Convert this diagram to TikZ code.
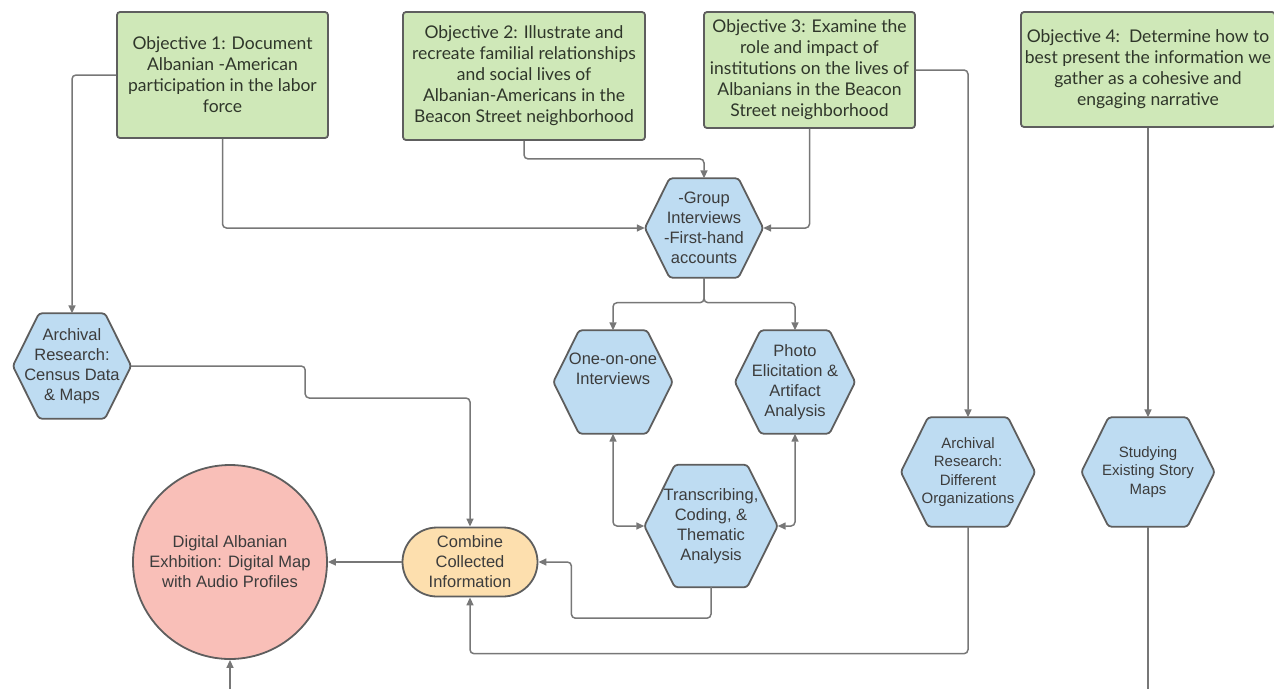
\documentclass[tikz,border=0pt]{standalone}
\usepackage{fontspec}
\setmainfont{Liberation Sans}
\newfontfamily\lato{Lato}
\usetikzlibrary{arrows.meta,calc,backgrounds,shapes.misc}
\definecolor{objfill}{HTML}{CFE8B8}
\definecolor{hexfill}{HTML}{BEDCF2}
\definecolor{edgegray}{HTML}{5E5E5E}
\definecolor{linegray}{HTML}{777777}
\definecolor{combfill}{HTML}{FDDFAE}
\definecolor{circfill}{HTML}{F9BFB8}
\definecolor{txtgray}{HTML}{3C3C3C}
\definecolor{objtxt}{HTML}{2F362A}
\tikzset{
  objbox/.style={draw=edgegray, fill=objfill, line width=1.8pt, rounded corners=3pt,
    inner sep=0pt, align=center, text=objtxt, font=\lato\fontsize{17.5}{21}\selectfont},
  hexn/.style={inner sep=0pt, align=center, text=txtgray, font=\fontsize{16.5}{20}\selectfont},
  hexsmall/.style={font=\fontsize{15}{18.5}\selectfont},
  hexbox/.style={draw=edgegray, fill=hexfill, line width=1.8pt, rounded corners=3pt},
  combbox/.style={rounded rectangle, draw=edgegray, fill=combfill, line width=1.8pt,
    inner sep=0pt, align=center, text=txtgray, font=\fontsize{16.5}{20}\selectfont},
  circbox/.style={circle, draw=edgegray, fill=circfill, line width=1.8pt,
    inner sep=0pt, align=center, text=txtgray, font=\fontsize{16.5}{20}\selectfont},
  conn/.style={draw=linegray, line width=1.5pt, rounded corners=4pt},
  arr/.style={conn, -{Triangle[length=8pt,width=7pt]}},
  arrboth/.style={conn, {Triangle[length=8pt,width=7pt]}-{Triangle[length=8pt,width=7pt]}}
}
\newcommand{\hexnode}[7][]{%
  \node[hexn, #1, minimum width=#5, minimum height=#6] (#2) at (#3,#4) {#7};
  \begin{scope}[on background layer]
    \draw[hexbox] (#2.west) -- ($(#2.north west)+(0.25*#6,0)$) -- ($(#2.north east)+(-0.25*#6,0)$)
      -- (#2.east) -- ($(#2.south east)+(-0.25*#6,0)$) -- ($(#2.south west)+(0.25*#6,0)$) -- cycle;
  \end{scope}
}
\begin{document}
\begin{tikzpicture}[x=1pt,y=-1pt]
\useasboundingbox (0,0) rectangle (1274,689);

% objectives
\node[objbox, minimum width=211, minimum height=126] (o1) at (222.5,75)
  {Objective 1: Document\\Albanian -American\\participation in the labor\\force};
\node[objbox, minimum width=242, minimum height=128] (o2) at (524,76)
  {Objective 2: Illustrate and\\recreate familial relationships\\and social lives of\\Albanian-Americans in the\\Beacon Street neighborhood};
\node[objbox, minimum width=211, minimum height=116] (o3) at (809.5,70)
  {Objective 3: Examine the\\role and impact of\\institutions on the lives of\\Albanians in the Beacon\\Street neighborhood};
\node[objbox, minimum width=254, minimum height=115] (o4) at (1148,69.5)
  {Objective 4:\ \ Determine how to\\best present the information we\\gather as a cohesive and\\engaging narrative};

% hexagons
\hexnode{ar1}{72}{366}{118}{105}{Archival\\Research:\\Census Data\\\& Maps}
\hexnode{grp}{704}{228}{118}{99}{-Group\\Interviews\\-First-hand\\accounts}
\hexnode{one}{613}{382}{119}{103}{One-on-one\\Interviews\\[6pt]}
\hexnode{photo}{795}{382}{120}{103}{Photo\\Elicitation \&\\Artifact\\Analysis}
\hexnode{tr}{711}{526}{133}{122}{Transcribing,\\Coding, \&\\Thematic\\Analysis}
\hexnode[hexsmall]{ar2}{968}{472}{134}{109}{Archival\\Research:\\Different\\Organizations}
\hexnode[hexsmall]{st}{1148}{472}{133}{109}{Studying\\Existing Story\\Maps}

% combine and output
\node[combbox, minimum width=135, minimum height=69] (comb) at (470,562)
  {Combine\\Collected\\Information};
\node[circbox, minimum size=194] (circ) at (230,562)
  {Digital Albanian\\Exhbition: Digital Map\\with Audio Profiles};

\coordinate (cin) at (230,689);
\coordinate (sout) at (1148,689);

% connectors
\draw[arr] (o1.west) -| (ar1.north);
\draw[arr] (o1.south) |- (grp.west);
\draw[arr] (o2.south) -- ++(0,18) -| (grp.north);
\draw[arr] (o3.south) |- (grp.east);
\draw[arr] (o3.east) -| (ar2.north);
\draw[arr] (o4.south) -- (st.north);
\draw[arr] (grp.south) -- ++(0,25) -| (one.north);
\draw[arr] (grp.south) -- ++(0,25) -| (photo.north);
\draw[arrboth] (one.south) |- (tr.west);
\draw[arrboth] (photo.south) |- (tr.east);
\draw[arr] (tr.south) -- ++(0,31) -| ([xshift=33pt]comb.east) -- (comb.east);
\draw[arr] (ar1.east) -- ++(174,0) -- ++(0,32) -| (comb.north);
\draw[arr] (ar2.south) -- ++(0,127) -| (comb.south);
\draw[arr] (comb.west) -- (circ.east);
\draw[arr] (cin) -- (circ.south);
\draw[conn] (st.south) -- (sout);
\end{tikzpicture}
\end{document}
